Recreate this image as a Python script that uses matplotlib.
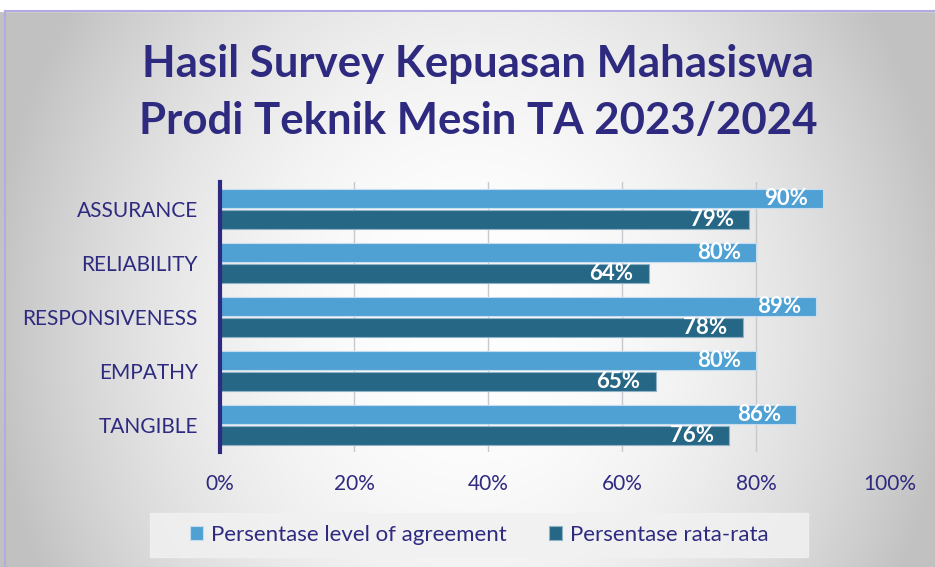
import numpy as np
import matplotlib.pyplot as plt
from matplotlib.patches import Rectangle

plt.rcParams['font.family'] = ['Lato', 'DejaVu Sans']

categories = ['ASSURANCE', 'RELIABILITY', 'RESPONSIVENESS', 'EMPATHY', 'TANGIBLE']
agreement = [90, 80, 89, 80, 86]
rata_rata = [79, 64, 78, 65, 76]
series_names = ['Persentase level of agreement', 'Persentase rata-rata']
xticks = [0, 20, 40, 60, 80, 100]

navy = '#2E2A80'
light_blue = '#4FA1D4'
dark_blue = '#276786'

W, H = 935, 567
fig = plt.figure(figsize=(W / 100, H / 100), dpi=100)

# radial grey background
bg = fig.add_axes([0, 0, 1, 1])
yy, xx = np.mgrid[0:H, 0:W]
d = np.sqrt(((xx - 470) / 480.0) ** 2 + ((yy - 320) / 560.0) ** 2)
shade = 1 - 0.24 * np.clip(d, 0, 1) ** 2
img = np.dstack([shade, shade, shade])
bg.imshow(img, extent=[0, W, H, 0], aspect='auto')
bg.add_patch(Rectangle((0, 0), W, 11, color='white', zorder=2))
bg.plot([5, W], [11, 11], color='#B3ACE3', lw=1.5, zorder=3)
bg.plot([5, 5], [11, H], color='#B3ACE3', lw=1.5, zorder=3)
# legend panel
bg.add_patch(Rectangle((150, 513), 658, 44, color='#F1F1F1', alpha=0.85, zorder=2))
bg.set_xlim(0, W)
bg.set_ylim(H, 0)
bg.axis('off')

fig.text(0.511, 1 - 64 / H, 'Hasil Survey Kepuasan Mahasiswa', ha='center', va='center',
         fontsize=31.5, fontweight='bold', color=navy)
fig.text(0.511, 1 - 121 / H, 'Prodi Teknik Mesin TA 2023/2024', ha='center', va='center',
         fontsize=31.5, fontweight='bold', color=navy)

ax = fig.add_axes([220 / W, 1 - 452 / H, 670 / W, 270 / H])
ax.patch.set_alpha(0)
y = np.arange(len(categories))
h = 0.36
b1 = ax.barh(y - 0.19, agreement, height=h, color=light_blue, edgecolor='#C5DDEE', linewidth=0.8, zorder=3)
b2 = ax.barh(y + 0.19, rata_rata, height=h, color=dark_blue, edgecolor='#8FB3C6', linewidth=0.8, zorder=3)

for bars, vals in [(b1, agreement), (b2, rata_rata)]:
    for bar, v in zip(bars, vals):
        ax.annotate(f'{v}%', (v, bar.get_y() + bar.get_height() / 2), xytext=(-11, 0),
                    textcoords='offset points', ha='right', va='center', color='white',
                    fontsize=16, fontweight='bold', zorder=4)

ax.set_xlim(0, 100)
ax.set_ylim(len(categories) - 0.5, -0.5)
ax.set_yticks(y)
ax.set_yticklabels(categories, fontsize=15, color=navy)
ax.set_xticks(xticks)
ax.set_xticklabels([f'{t}%' for t in xticks], fontsize=15, color=navy)
ax.tick_params(axis='both', length=0)
ax.tick_params(axis='y', pad=16)
ax.tick_params(axis='x', pad=16)
ax.grid(axis='x', color='#C8C8CE', lw=1, zorder=1)
for s in ['top', 'right', 'bottom']:
    ax.spines[s].set_visible(False)
ax.spines['left'].set_color(navy)
ax.spines['left'].set_linewidth(3)
ax.spines['left'].set_zorder(5)

leg = fig.legend([b1, b2], series_names, loc='center left', bbox_to_anchor=(181 / W, 1 - 535 / H),
                 ncol=2, frameon=False, fontsize=16, handlelength=0.6, handleheight=0.6,
                 handletextpad=0.35, columnspacing=1.9, borderaxespad=0)
for t in leg.get_texts():
    t.set_color(navy)

fig.savefig('out.png', dpi=100)
